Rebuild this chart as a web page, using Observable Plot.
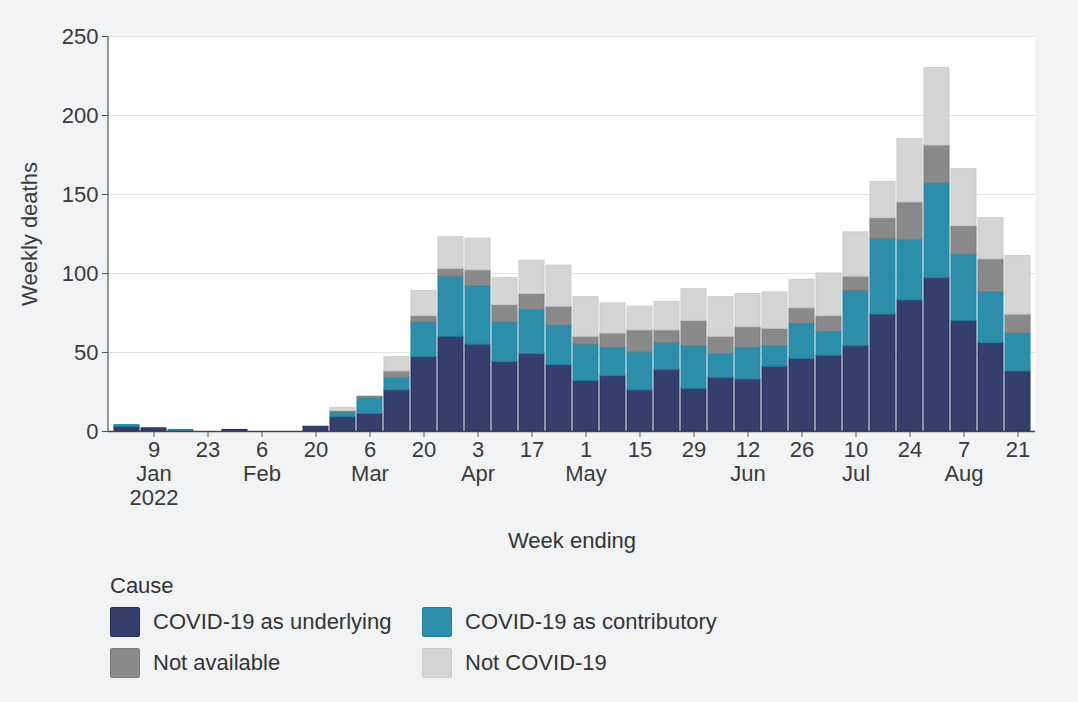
<!DOCTYPE html>
<html>
<head>
<meta charset="utf-8">
<script src="https://cdn.jsdelivr.net/npm/d3@7"></script>
<script src="https://cdn.jsdelivr.net/npm/@observablehq/plot@0.6"></script>
<style>
  html, body { margin: 0; padding: 0; background: #f2f3f5; }
  body { width: 1078px; height: 702px; position: relative; overflow: hidden;
         font-family: "Liberation Sans", Arial, sans-serif; color: #333; }
  #chart { position: absolute; left: 0; top: 0; }
  #legend { position: absolute; left: 110px; top: 571px; font-size: 22px; color: #333; }
  #legend .title { height: 30px; line-height: 30px; }
  #legend .row { display: flex; align-items: center; height: 41px; }
  #legend .item { display: flex; align-items: center; }
  #legend .sw { width: 30px; height: 30px; border-radius: 2px; box-sizing: border-box; border: 1.5px solid; margin-right: 13px; }
</style>
</head>
<body>
<div id="chart"></div>
<div id="legend"></div>
<script>
// ---- data ----
const weeks = ["2022-01-02","2022-01-09","2022-01-16","2022-01-23","2022-01-30","2022-02-06","2022-02-13","2022-02-20","2022-02-27",
  "2022-03-06","2022-03-13","2022-03-20","2022-03-27","2022-04-03","2022-04-10","2022-04-17","2022-04-24",
  "2022-05-01","2022-05-08","2022-05-15","2022-05-22","2022-05-29","2022-06-05","2022-06-12","2022-06-19","2022-06-26",
  "2022-07-03","2022-07-10","2022-07-17","2022-07-24","2022-07-31","2022-08-07","2022-08-14","2022-08-21"];
const tickLabels = ["","9\nJan\n2022","","23","","6\nFeb","","20","","6\nMar","","20","","3\nApr","","17","",
  "1\nMay","","15","","29","","12\nJun","","26","","10\nJul","","24","","7\nAug","","21"];
const underlying   = [3,2,0,0,1,0,0,3,9,11,26,47,60,55,44,49,42,32,35,26,39,27,34,33,41,46,48,54,74,83,97,70,56,38];
const contributory = [1,0,1,0,0,0,0,0,3,10,8,22,38,37,25,28,25,23,18,24,17,27,15,20,13,22,15,35,48,38,60,42,32,24];
const notAvailable = [0,0,0,0,0,0,0,0,1,1,4,4,5,10,11,10,12,5,9,14,8,16,11,13,11,10,10,9,13,24,24,18,21,12];
const notCovid     = [0,0,0,0,0,0,0,0,2,0,9,16,20,20,17,21,26,25,19,15,18,20,25,21,23,18,27,28,23,40,49,36,26,37];

const causes = ["COVID-19 as underlying","COVID-19 as contributory","Not available","Not COVID-19"];
const fills   = ["#343f6b","#2d8ea9","#8a8a8a","#d5d5d5"];
const strokes = ["#232d5c","#1c84a3","#7b7b7b","#cbcbcb"];
const series  = [underlying, contributory, notAvailable, notCovid];

const rows = [];
causes.forEach((c, ci) => weeks.forEach((w, wi) => rows.push({week: w, cause: c, ci, value: series[ci][wi]})));
const labelOf = new Map(weeks.map((w, i) => [w, tickLabels[i]]));
const tickWeeks = weeks.filter((w, i) => tickLabels[i] !== "");

const leftLine = (index, scales, values, dims) => {
  const ns = "http://www.w3.org/2000/svg";
  const l = document.createElementNS(ns, "line");
  l.setAttribute("x1", dims.marginLeft); l.setAttribute("x2", dims.marginLeft);
  l.setAttribute("y1", dims.marginTop); l.setAttribute("y2", dims.height - dims.marginBottom);
  l.setAttribute("stroke", "#555"); l.setAttribute("stroke-width", 1.2);
  return l;
};

const chart = Plot.plot({
  width: 1078,
  height: 560,
  marginLeft: 108,
  marginRight: 43,
  marginTop: 36,
  marginBottom: 129,
  style: {background: "transparent", fontFamily: "Liberation Sans, Arial, sans-serif", fontSize: "22px", color: "#333"},
  x: {type: "band", domain: weeks, padding: 0},
  y: {domain: [0, 250]},
  color: {type: "identity"},
  marks: [
    Plot.frame({fill: "white", stroke: null}),
    Plot.gridY({ticks: [0,50,100,150,200,250], stroke: "#e2e2e2", strokeOpacity: 1, strokeWidth: 1.2}),
    Plot.barY(rows, Plot.stackY({
      x: "week", y: "value", z: "cause", order: causes,
      fill: d => fills[d.ci], stroke: d => strokes[d.ci], strokeWidth: 1,
      insetLeft: 1, insetRight: 1
    })),
    Plot.ruleY([0], {stroke: "#444", strokeWidth: 1.5}),
    leftLine,
    Plot.axisY({ticks: [0,50,100,150,200,250], tickSize: 6, tickPadding: 4, stroke: "#555",
      fill: "#3a3a3a", fontSize: 22, label: "Weekly deaths", labelAnchor: "center", labelArrow: "none", labelOffset: 87}),
    Plot.axisX({ticks: tickWeeks, tickFormat: w => labelOf.get(w), tickSize: 6, tickPadding: 2,
      stroke: "#555", fill: "#3a3a3a", fontSize: 22, lineHeight: 1.1, label: null}),
    Plot.text(["Week ending"], {frameAnchor: "bottom", dy: 116, fill: "#333", fontSize: 22})
  ]
});
document.getElementById("chart").appendChild(chart);

// ---- legend ----
const leg = document.getElementById("legend");
leg.innerHTML = '<div class="title">Cause</div>';
for (let r = 0; r < 2; r++) {
  const row = document.createElement("div");
  row.className = "row";
  for (let c = 0; c < 2; c++) {
    const i = r * 2 + c;
    const it = document.createElement("div");
    it.className = "item";
    it.style.width = c === 0 ? "312px" : "auto";
    it.innerHTML = `<div class="sw" style="background:${fills[i]};border-color:${strokes[i]}"></div><span>${causes[i]}</span>`;
    row.appendChild(it);
  }
  leg.appendChild(row);
}
</script>
</body>
</html>
